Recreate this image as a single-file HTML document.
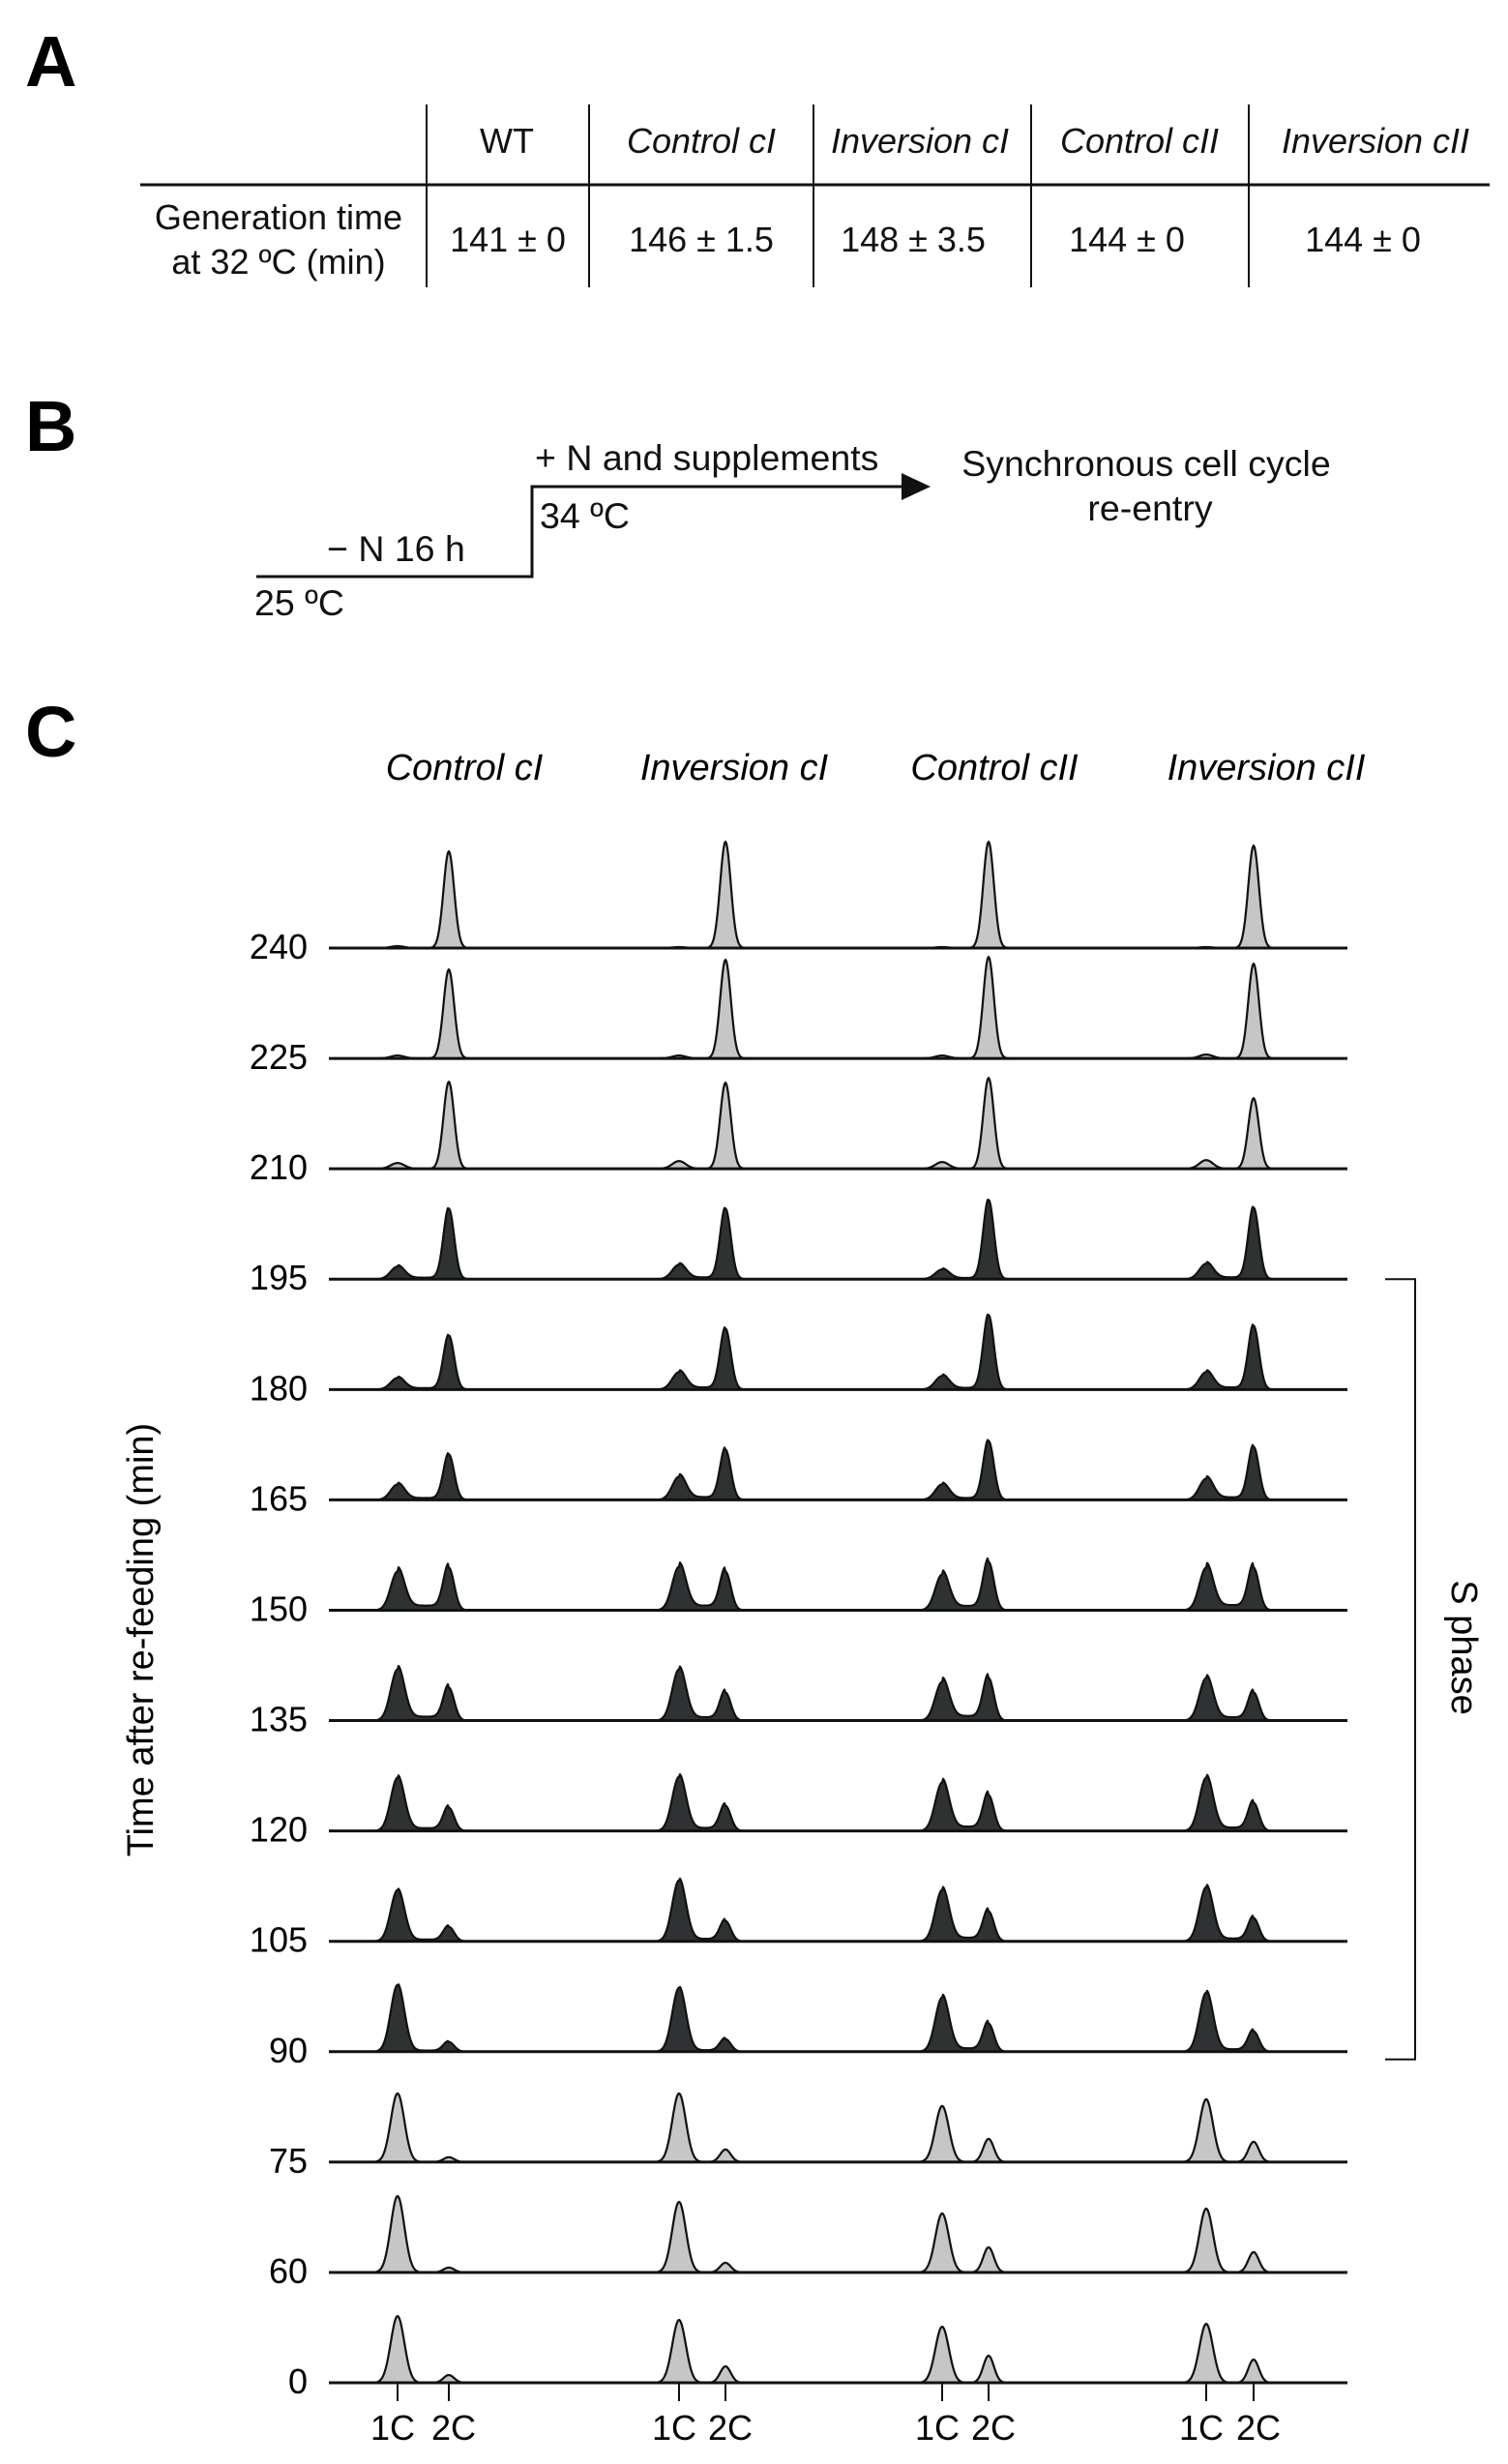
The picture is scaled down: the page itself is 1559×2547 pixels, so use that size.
<!DOCTYPE html>
<html><head><meta charset="utf-8"><style>
html,body{margin:0;padding:0;background:#fff;}
svg{display:block;font-family:"Liberation Sans",Arial,sans-serif;}
</style></head><body>
<svg id="fig" width="1559" height="2547" viewBox="0 0 1559 2547" xmlns="http://www.w3.org/2000/svg">
<text x="26" y="89" font-size="74" font-weight="bold">A</text>
<g fill="#111" font-size="36" text-anchor="middle">
<line x1="145" y1="191" x2="1540" y2="191" stroke="#111" stroke-width="3"/>
<g stroke="#111" stroke-width="2">
<line x1="441" y1="108" x2="441" y2="297"/><line x1="609" y1="108" x2="609" y2="297"/>
<line x1="841" y1="108" x2="841" y2="297"/><line x1="1066" y1="108" x2="1066" y2="297"/>
<line x1="1291" y1="108" x2="1291" y2="297"/></g>
<text x="524" y="158">WT</text>
<text x="725" y="158" font-style="italic">Control cI</text>
<text x="951" y="158" font-style="italic">Inversion cI</text>
<text x="1178" y="158" font-style="italic">Control cII</text>
<text x="1422" y="158" font-style="italic">Inversion cII</text>
<text x="288" y="237">Generation time</text>
<text x="288" y="283">at 32 ºC (min)</text>
<text x="525" y="260">141 ± 0</text>
<text x="725" y="260">146 ± 1.5</text>
<text x="944" y="260">148 ± 3.5</text>
<text x="1165" y="260">144 ± 0</text>
<text x="1409" y="260">144 ± 0</text>
</g>
<text x="26" y="466" font-size="74" font-weight="bold">B</text>
<g font-size="37.5" fill="#111">
<polyline points="265,596 550,596 550,503 945,503" fill="none" stroke="#111" stroke-width="3"/>
<polygon points="962,503 932,489 932,517" fill="#111"/>
<text x="553" y="486">+ N and supplements</text>
<text x="558" y="546">34 ºC</text>
<text x="338" y="580">− N 16 h</text>
<text x="263" y="636">25 ºC</text>
<text x="1185" y="492" text-anchor="middle">Synchronous cell cycle</text>
<text x="1189" y="538" text-anchor="middle">re-entry</text>
</g>
<text x="26" y="782" font-size="74" font-weight="bold">C</text>
<g id="chart"></g>
</svg>
<script>
const strains = ["Control cI","Inversion cI","Control cII","Inversion cII"];
const times = [240,225,210,195,180,165,150,135,120,105,90,75,60,0];
const sPhaseRows = [195,180,165,150,135,120,105,90];
// 1C peak heights per row (rows = times), columns = strains
const peak1C = [
 [2,1,1,1],[3,3,3,4],[6,8,7,9],[13,15,10,16],[12,18,14,18],[16,24,16,22],
 [40,45,37,44],[53,53,40,44],[55,56,50,55],[53,63,53,56],[69,66,56,61],
 [71,71,58,65],[79,73,61,66],[69,65,58,61]];
const peak2C = [
 [100,110,110,106],[92,102,105,98],[90,89,94,73],[73,73,82,74],[56,63,77,66],
 [47,52,61,55],[44,40,50,44],[34,29,44,29],[24,26,37,29],[15,21,31,24],
 [10,13,29,21],[5,13,24,21],[5,10,26,21],[8,17,28,24]];
const xTickLabels = ["1C","2C"];

const NS="http://www.w3.org/2000/svg";
const g=document.getElementById('chart');
const firstBase=980, rowStep=114.08;
const colX1=[411,702,974,1247], colX2=[464,750,1022,1296];
const headerX=[480,759,1028,1309];
function yBase(i){return firstBase+i*rowStep;}
function mk(t,a){const e=document.createElementNS(NS,t);for(const k in a)e.setAttribute(k,a[k]);return e;}

strains.forEach((s,c)=>{
 const t=mk('text',{x:headerX[c],y:806,'font-size':38,'font-style':'italic','text-anchor':'middle'});
 
 
 t.textContent=s;g.appendChild(t);
});
times.forEach((tm,i)=>{
 const yb=yBase(i);
 const lab=mk('text',{x:318,y:yb+11,'font-size':36,'text-anchor':'end'});
 
 
 lab.textContent=tm;g.appendChild(lab);
 const dark=sPhaseRows.indexOf(tm)>=0;
 strains.forEach((s,c)=>{
  const h1=peak1C[i][c], h2=peak2C[i][c];
  const x1=colX1[c], x2=colX2[c];
  const s1=7, s2=5.5;
  const x0=x1-45, xe=x2+55;
  let d='M'+x0+','+yb;
  for(let x=x0;x<=xe;x+=1){
   let v=h1*Math.exp(-((x-x1)**2)/(2*s1*s1))+h2*Math.exp(-((x-x2)**2)/(2*s2*s2));
   if(dark && x>x1 && x<x2) v+=Math.min(h1,h2)*0.12;
   d+=' L'+x+','+(yb-v).toFixed(2);
  }
  d+=' L'+xe+','+yb+' Z';
  const p=mk('path',{d:d,fill:dark?'#2e3232':'#c6c6c6',stroke:'#111','stroke-width':2.2,'stroke-linejoin':'round'});
  
  
  g.appendChild(p);
 });
 const bl=mk('line',{x1:340,y1:yb,x2:1393,y2:yb,stroke:'#111','stroke-width':3});
 
 
 g.appendChild(bl);
});
const yLast=yBase(times.length-1);
strains.forEach((s,c)=>{
 [colX1[c],colX2[c]].forEach((x,k)=>{
  const tk=mk('line',{x1:x,y1:yLast,x2:x,y2:yLast+19,stroke:'#111','stroke-width':2});
  
  
  g.appendChild(tk);
  const tl=mk('text',{x:x+(k===0?-5:5),y:yLast+59,'font-size':36,'text-anchor':'middle'});
  
  
  tl.textContent=xTickLabels[k];g.appendChild(tl);
 });
});
const yb195=yBase(times.indexOf(195)), yb90=yBase(times.indexOf(90));
const br=mk('polyline',{points:`1432,${yb195} 1463,${yb195} 1463,${yb90+8} 1432,${yb90+8}`,fill:'none',stroke:'#111','stroke-width':2});


g.appendChild(br);
const sp=mk('text',{x:0,y:0,'font-size':38,'text-anchor':'middle',transform:'translate(1501,1703) rotate(90)'});


sp.textContent='S phase';g.appendChild(sp);
const yt=mk('text',{x:0,y:0,'font-size':38,'text-anchor':'middle',transform:'translate(158,1695) rotate(-90)'});


yt.textContent='Time after re-feeding (min)';g.appendChild(yt);
</script>
</body></html>
